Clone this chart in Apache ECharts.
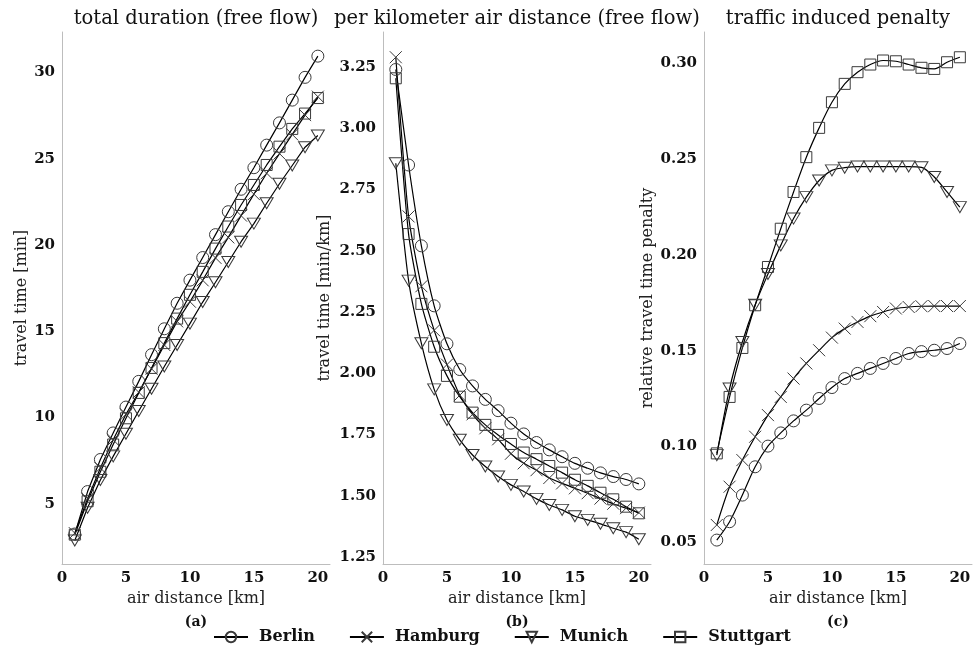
<!DOCTYPE html>
<html>
<head>
<meta charset="utf-8">
<script src="https://cdn.jsdelivr.net/npm/echarts@6/dist/echarts.min.js"></script>
<style>
  html, body { margin: 0; padding: 0; background: #fff; }
  #chart { width: 976px; height: 647px; }
</style>
</head>
<body>
<div id="chart"></div>
<script>
// air distance in km
const distance = [1, 2, 3, 4, 5, 6, 7, 8, 9, 10, 11, 12, 13, 14, 15, 16, 17, 18, 19, 20];

// (a) total duration, free flow [min]
const totalBerlin    = [3.24, 5.70, 7.56, 9.10, 10.60, 12.09, 13.64, 15.14, 16.62, 17.96, 19.27, 20.60, 21.93, 23.23, 24.48, 25.79, 27.08, 28.40, 29.72, 30.95];
const totalHamburg   = [3.29, 5.28, 7.07, 8.70, 10.18, 11.46, 12.82, 14.20, 15.57, 16.71, 17.95, 19.25, 20.44, 21.70, 22.95, 24.16, 25.30, 26.41, 27.53, 28.60];
const totalMunich    = [2.86, 4.76, 6.37, 7.74, 9.05, 10.37, 11.66, 12.95, 14.20, 15.44, 16.69, 17.84, 19.01, 20.19, 21.24, 22.42, 23.55, 24.61, 25.67, 26.35];
const totalStuttgart = [3.20, 5.14, 6.85, 8.43, 9.95, 11.42, 12.87, 14.31, 15.73, 17.11, 18.44, 19.79, 21.07, 22.32, 23.48, 24.64, 25.70, 26.73, 27.62, 28.52];

// (b) per kilometer air distance, free flow [min/km]
const perKmBerlin    = [3.24, 2.85, 2.52, 2.275, 2.12, 2.015, 1.948, 1.893, 1.847, 1.796, 1.752, 1.717, 1.687, 1.659, 1.632, 1.612, 1.593, 1.578, 1.566, 1.548];
const perKmHamburg   = [3.29, 2.64, 2.355, 2.175, 2.035, 1.91, 1.832, 1.775, 1.73, 1.671, 1.632, 1.604, 1.572, 1.55, 1.53, 1.51, 1.488, 1.467, 1.449, 1.431];
const perKmMunich    = [2.857, 2.378, 2.122, 1.934, 1.809, 1.728, 1.666, 1.619, 1.578, 1.544, 1.517, 1.487, 1.462, 1.442, 1.416, 1.401, 1.385, 1.367, 1.351, 1.322];
const perKmStuttgart = [3.204, 2.568, 2.283, 2.108, 1.989, 1.904, 1.839, 1.789, 1.748, 1.711, 1.676, 1.649, 1.621, 1.594, 1.565, 1.540, 1.512, 1.485, 1.455, 1.428];

// (c) relative travel time penalty caused by traffic
const penaltyBerlin    = [0.051, 0.0606, 0.0745, 0.0893, 0.1001, 0.107, 0.1133, 0.1189, 0.125, 0.1307, 0.1354, 0.1381, 0.1407, 0.1433, 0.1459, 0.1485, 0.1495, 0.1502, 0.1511, 0.1537];
const penaltyHamburg   = [0.0589, 0.0789, 0.0928, 0.105, 0.1163, 0.1258, 0.1354, 0.1433, 0.1502, 0.1568, 0.1615, 0.165, 0.168, 0.1702, 0.172, 0.1728, 0.1732, 0.1733, 0.1733, 0.1733];
const penaltyMunich    = [0.0954, 0.1302, 0.1545, 0.174, 0.190, 0.205, 0.219, 0.2302, 0.2389, 0.2442, 0.2456, 0.2462, 0.2462, 0.2462, 0.2462, 0.2462, 0.2458, 0.2407, 0.2329, 0.225];
const penaltyStuttgart = [0.0963, 0.1258, 0.1514, 0.1737, 0.1937, 0.2137, 0.2329, 0.2511, 0.2664, 0.2798, 0.2894, 0.2955, 0.2995, 0.3016, 0.3012, 0.2995, 0.2978, 0.2972, 0.3007, 0.3033];

const cities = ['Berlin', 'Hamburg', 'Munich', 'Stuttgart'];
const panelTitles = ['total duration (free flow)', 'per kilometer air distance (free flow)', 'traffic induced penalty'];
const panelCaptions = ['(a)', '(b)', '(c)'];
const yNames = ['travel time [min]', 'travel time [min/km]', 'relative travel time penalty'];
const xTicks = [0, 5, 10, 15, 20];
const yTicksA = [5, 10, 15, 20, 25, 30];
const yTicksB = [1.25, 1.5, 1.75, 2.0, 2.25, 2.5, 2.75, 3.0, 3.25];
const yTicksC = [0.05, 0.10, 0.15, 0.20, 0.25, 0.30];

const SERIF = 'DejaVu Serif';

// marker look per city
const markers = {
  Berlin:    { symbol: 'circle', symbolSize: 12, symbolRotate: 0 },
  Hamburg:   { symbol: 'path://M0,0L10,10M10,0L0,10', symbolSize: 12, symbolRotate: 0 },
  Munich:    { symbol: 'triangle', symbolSize: [13, 11], symbolRotate: 180 },
  Stuttgart: { symbol: 'rect', symbolSize: 11, symbolRotate: 0 }
};

const panels = [
  { data: [totalBerlin, totalHamburg, totalMunich, totalStuttgart], smooth: false, min: 1.5, max: 32.35, ticks: yTicksA, fmt: v => String(v) },
  { data: [perKmBerlin, perKmHamburg, perKmMunich, perKmStuttgart], smooth: 0.2, min: 1.221, max: 3.393, ticks: yTicksB, fmt: v => v.toFixed(2) },
  { data: [penaltyBerlin, penaltyHamburg, penaltyMunich, penaltyStuttgart], smooth: 0.3, min: 0.0385, max: 0.3165, ticks: yTicksC, fmt: v => v.toFixed(2) }
];

const gridLefts = [62, 383, 704];
const gridWidth = 268;
const gridTop = 32;
const gridHeight = 532;
const yNameGaps = [32, 50, 48];

const axisLineStyle = { color: '#bdbdbd', width: 1 };

const grids = [], xAxes = [], yAxes = [], series = [], titles = [];

panels.forEach((p, k) => {
  grids.push({ left: gridLefts[k], top: gridTop, width: gridWidth, height: gridHeight, containLabel: false });
  xAxes.push({
    type: 'value', gridIndex: k, min: 0, max: 20.95,
    name: 'air distance [km]', nameLocation: 'middle', nameGap: 25,
    nameTextStyle: { fontFamily: SERIF, fontSize: 16, color: '#222' },
    axisLine: { show: true, lineStyle: axisLineStyle },
    axisTick: { show: false },
    splitLine: { show: false },
    axisLabel: { customValues: xTicks, margin: 7, fontFamily: SERIF, fontWeight: 'bold', fontSize: 15, color: '#111' }
  });
  yAxes.push({
    type: 'value', gridIndex: k, min: p.min, max: p.max,
    name: yNames[k], nameLocation: 'middle', nameGap: yNameGaps[k],
    nameTextStyle: { fontFamily: SERIF, fontSize: 16, color: '#222' },
    axisLine: { show: true, lineStyle: axisLineStyle },
    axisTick: { show: false },
    splitLine: { show: false },
    axisLabel: { customValues: p.ticks, formatter: p.fmt, margin: 7, fontFamily: SERIF, fontWeight: 'bold', fontSize: 15, color: '#111' }
  });
  cities.forEach((c, i) => {
    const m = markers[c];
    series.push({
      name: c, type: 'line', xAxisIndex: k, yAxisIndex: k,
      data: distance.map((d, j) => [d, p.data[i][j]]),
      smooth: p.smooth,
      symbol: m.symbol, symbolSize: m.symbolSize, symbolRotate: m.symbolRotate,
      showAllSymbol: true,
      lineStyle: { color: '#000', width: 1.2 },
      itemStyle: { color: 'rgba(0,0,0,0)', borderColor: '#3a3a3a', borderWidth: 1 },
      emphasis: { disabled: true },
      z: 2
    });
  });
  titles.push({
    text: panelTitles[k], left: gridLefts[k] + gridWidth / 2, top: 9, textAlign: 'center', padding: 0,
    textStyle: { fontFamily: SERIF, fontWeight: 'normal', fontSize: 19.5, color: '#111' }
  });
  titles.push({
    text: panelCaptions[k], left: gridLefts[k] + gridWidth / 2, top: 615, textAlign: 'center', padding: 0,
    textStyle: { fontFamily: SERIF, fontWeight: 'bold', fontSize: 14, color: '#111' }
  });
});

const chart = echarts.init(document.getElementById('chart'), null, { renderer: 'canvas' });
chart.setOption({
  animation: false,
  backgroundColor: '#fff',
  title: titles,
  grid: grids,
  xAxis: xAxes,
  yAxis: yAxes,
  legend: {
    data: cities, left: 213, top: 629, itemGap: 34, itemWidth: 34, itemHeight: 13,
    textStyle: { fontFamily: SERIF, fontWeight: 'bold', fontSize: 16, color: '#111', padding: [0, 0, 0, 6] },
    padding: 0
  },
  series: series
});
</script>
</body>
</html>
